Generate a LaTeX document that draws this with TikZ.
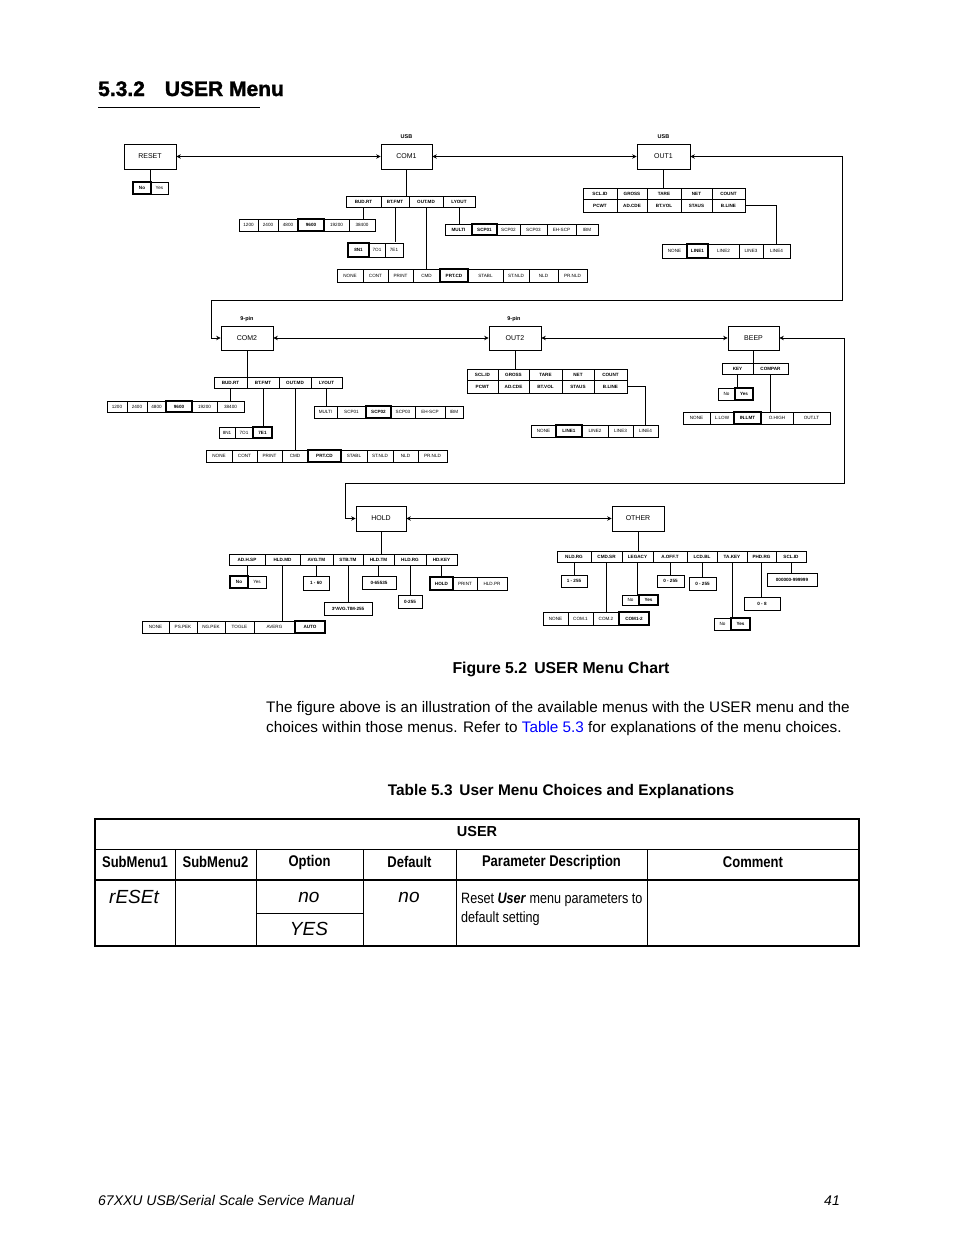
\documentclass[tikz,border=0pt]{standalone}
\usepackage{fontspec}
\setmainfont{Liberation Sans}
\newfontfamily\narrowfont[FakeStretch=0.84]{Liberation Sans}
\newfontfamily\heavyfont[BoldFeatures={FakeBold=1.6}]{Liberation Sans}
\usetikzlibrary{arrows.meta}
\newcommand\bx[7]{\node[#6, minimum width={(#3-#2)*1pt}, minimum height={(#5-#4)*1pt}] (#1) at ({(#2+#3)/2},{(#4+#5)/2}) {#7};}
\newcommand\cellrow[4]{\foreach \xa/\xb/\st/\tx [count=\i] in {#4} {\bx{#1\i}{\xa}{\xb}{#2}{#3}{\st}{\tx}}}
\newcommand\vcon[2]{\draw[conn] (#1.south) -- (#1.south |- #2.north);}
\tikzset{
  mainbox/.style={draw, line width=0.7pt, inner sep=0pt, font=\fontsize{7}{8}\selectfont},
  cnm/.style={draw, line width=0.6pt, inner sep=0pt, font=\fontsize{4.6}{5}\selectfont},
  chd/.style={cnm, font=\fontsize{4.6}{5}\selectfont\bfseries},
  cdf/.style={cnm, line width=1.6pt, font=\fontsize{4.6}{5}\selectfont\bfseries},
  conn/.style={line width=0.7pt},
  arr/.style={conn, {Stealth[length=4.5pt,width=4.5pt]}-{Stealth[length=4.5pt,width=4.5pt]}},
  lbl/.style={font=\fontsize{5.5}{6}\selectfont\bfseries},
  seg/.style={font=\fontsize{19}{20}\selectfont\itshape},
  th/.style={font=\narrowfont\fontsize{15.5}{18}\selectfont\bfseries},
}
\begin{document}
\begin{tikzpicture}[x=1pt,y=-1pt]
\useasboundingbox[fill=white] (0,0) rectangle (954,1235);

% ---------- heading ----------
\node[anchor=base west, inner sep=0pt, font=\heavyfont\fontsize{21}{24}\selectfont\bfseries] (head) at (98,96) {5.3.2\hspace{20pt}USER Menu};
\draw[line width=0.6pt] (98,107) coordinate (ul1) -- (260,107) coordinate (ul2);

% ---------- tier 1 ----------
\bx{reset}{124}{176}{144}{169}{mainbox}{RESET}
\bx{com1}{381}{432}{144}{169}{mainbox}{COM1}
\bx{out1}{637}{690}{144}{169}{mainbox}{OUT1}
\node[lbl] (usb1) at (406.5,136.5) {USB};
\node[lbl] (usb2) at (663.5,136.5) {USB};
\cellrow{rr}{182}{194}{133/151/cdf/No, 151/168/cnm/Yes}
\cellrow{c1m}{196}{207}{346/381/chd/BUD.RT, 381/409/chd/BT.FMT, 409/443/chd/OUT.MD, 443/475/chd/LYOUT}
\cellrow{c1b}{219}{231}{239/258/cnm/1200, 258/278/cnm/2400, 278/298/cnm/4800, 298/324/cdf/9600, 324/349/cnm/19200, 349/375/cnm/38400}
\cellrow{c1f}{243}{257}{348/369/cdf/8N1, 369/385/cnm/7O1, 385/403/cnm/7E1}
\cellrow{c1o}{269}{282}{337/363/cnm/NONE, 363/388/cnm/CONT, 388/413/cnm/PRINT, 413/440/cnm/CMD, 440/468/cdf/PRT.CD, 468/503/cnm/STABL, 503/529/cnm/ST.NLD, 529/558/cnm/NLD, 558/587/cnm/PR.NLD}
\cellrow{c1l}{224}{235}{445/472/chd/MULTI, 472/497/cdf/SCP01, 497/520/cnm/SCP02, 520/547/cnm/SCP03, 547/576/cnm/EH-SCP, 576/598/cnm/IBM}
\cellrow{o1a}{188}{199.5}{583/617/chd/SCL.ID, 617/647/chd/GROSS, 647/681/chd/TARE, 681/712/chd/NET, 712/745/chd/COUNT}
\cellrow{o1b}{199.5}{212}{583/617/chd/PCWT, 617/647/chd/AD.CDE, 647/681/chd/BT.VOL, 681/712/chd/STAUS, 712/745/chd/B.LINE}
\cellrow{o1l}{244}{258}{662/687/cnm/NONE, 687/708/cdf/LINE1, 708/739/cnm/LINE2, 739/763/cnm/LINE3, 763/790/cnm/LINE4}

\draw[arr] (reset.east) -- (com1.west);
\draw[arr] (com1.east) -- (out1.west);
\vcon{reset}{rr1}
\vcon{com1}{c1m1}
\vcon{c1m1}{c1b1}
\vcon{c1m2}{c1f1}
\vcon{c1m3}{c1o1}
\vcon{c1m4}{c1l1}
\vcon{out1}{o1a1}
\draw[conn] (o1b5.east) -| (o1l5.north);

% ---------- tier 2 ----------
\bx{com2}{221}{273}{326}{350}{mainbox}{COM2}
\bx{out2}{489}{541}{326}{350}{mainbox}{OUT2}
\bx{beep}{728}{779}{326}{350}{mainbox}{BEEP}
\node[lbl] (pin1) at (247,319) {9-pin};
\node[lbl] (pin2) at (514,319) {9-pin};
\cellrow{c2m}{377}{388}{214/247/chd/BUD.RT, 247/279/chd/BT.FMT, 279/311/chd/OUT.MD, 311/342/chd/LYOUT}
\cellrow{c2b}{401}{412}{107/127/cnm/1200, 127/147/cnm/2400, 147/166/cnm/4800, 166/192/cdf/9600, 192/217/cnm/19200, 217/244/cnm/38400}
\cellrow{c2f}{427}{438}{219/235/cnm/8N1, 235/253/cnm/7O1, 253/272/cdf/7E1}
\cellrow{c2o}{450}{462}{206/232/cnm/NONE, 232/257/cnm/CONT, 257/282/cnm/PRINT, 282/308/cnm/CMD, 308/341/cdf/PRT.CD, 341/367/cnm/STABL, 367/393/cnm/ST.NLD, 393/418/cnm/NLD, 418/447/cnm/PR.NLD}
\cellrow{c2l}{406}{418}{314/337/cnm/MULTI, 337/366/cnm/SCP01, 366/391/cdf/SCP02, 391/415/cnm/SCP03, 415/445/cnm/EH-SCP, 445/463/cnm/IBM}
\cellrow{o2a}{369}{380.5}{467/498/chd/SCL.ID, 498/529/chd/GROSS, 529/562/chd/TARE, 562/594/chd/NET, 594/627/chd/COUNT}
\cellrow{o2b}{380.5}{393}{467/498/chd/PCWT, 498/529/chd/AD.CDE, 529/562/chd/BT.VOL, 562/594/chd/STAUS, 594/627/chd/B.LINE}
\cellrow{o2l}{425}{437}{531/556/cnm/NONE, 556/582/cdf/LINE1, 582/608/cnm/LINE2, 608/633/cnm/LINE3, 633/658/cnm/LINE4}
\cellrow{bm}{363}{374}{722/753/chd/KEY, 753/788/chd/COMPAR}
\cellrow{bk}{388}{400}{718/735/cnm/No, 735/753/cdf/Yes}
\cellrow{bc}{412}{424}{683/710/cnm/NONE, 710/734/cnm/L.LOW, 734/761/cdf/IN.LMT, 761/793/cnm/O.HIGH, 793/830/cnm/OUT.LT}

\coordinate (ra) at (842,300);
\coordinate (la) at (211.5,300);
\draw[arr] (out1.east) -| (ra) -- (la) |- (com2.west);
\draw[arr] (com2.east) -- (out2.west);
\draw[arr] (out2.east) -- (beep.west);
\vcon{com2}{c2m1}
\vcon{c2m1}{c2b1}
\vcon{c2m2}{c2f1}
\vcon{c2m3}{c2o1}
\vcon{c2m4}{c2l1}
\vcon{out2}{o2a1}
\draw[conn] (o2b5.east) -| (o2l5.north);
\vcon{beep}{bm1}
\vcon{bm1}{bk1}
\vcon{bm2}{bc1}

% ---------- tier 3 ----------
\bx{hold}{356}{406}{506}{531}{mainbox}{HOLD}
\bx{other}{612}{664}{506}{531}{mainbox}{OTHER}
\cellrow{hm}{554}{565}{229/265/chd/AD.H.SP, 265/300/chd/HLD.MD, 300/333/chd/AVG.TM, 333/363/chd/STB.TM, 363/394/chd/HLD.TM, 394/426/chd/HLD.RG, 426/457/chd/HD.KEY}
\cellrow{ha}{576}{588}{230/248/cdf/No, 248/266/cnm/Yes}
\cellrow{hmd}{621}{633}{142/169/cnm/NONE, 169/197/cnm/PS.PEK, 197/225/cnm/NG.PEK, 225/254/cnm/TOGLE, 254/295/cnm/AVERG, 295/325/cdf/AUTO}
\cellrow{hav}{576}{590}{303/329/chd/1 - 60}
\cellrow{hst}{602}{615}{324/372/chd/3*AVG.TIM-255}
\cellrow{htm}{576}{589}{362/396/chd/0-65535}
\cellrow{hrg}{595}{608}{398/422/chd/0-255}
\cellrow{hky}{577}{590}{430/453/cdf/HOLD, 453/477/cnm/PRINT, 477/507/cnm/HLD.PR}
\cellrow{om}{551}{562}{557/591/chd/NLD.RG, 591/622/chd/CMD.SR, 622/653/chd/LEGACY, 653/687/chd/A.OFF.T, 687/717/chd/LCD.BL, 717/747/chd/TA.KEY, 747/776/chd/PHD.RG, 776/806/chd/SCL.ID}
\cellrow{onr}{575}{587}{561/587/chd/1 - 255}
\cellrow{ocs}{612}{625}{543/568/cnm/NONE, 568/593/cnm/COM.1, 593/619/cnm/COM.2, 619/649/cdf/COM1-2}
\cellrow{olg}{595}{605}{622/639/cnm/No, 639/658/cdf/Yes}
\cellrow{oao}{575}{587}{657/684/chd/0 - 255}
\cellrow{olc}{577}{590}{689/716/chd/0 - 255}
\cellrow{otk}{618}{630}{714/731/cnm/No, 731/750/cdf/Yes}
\cellrow{oph}{597}{610}{744/780/chd/0 - 8}
\cellrow{osc}{573}{586}{767/817/chd/000000-999999}

\coordinate (rb) at (844.5,483);
\coordinate (lb) at (345,483);
\draw[arr] (beep.east) -| (rb) -- (lb) |- (hold.west);
\draw[arr] (hold.east) -- (other.west);
\vcon{hold}{hm1}
\vcon{hm1}{ha1}
\vcon{hm2}{hmd1}
\vcon{hm3}{hav1}
\vcon{hm4}{hst1}
\vcon{hm5}{htm1}
\vcon{hm6}{hrg1}
\vcon{hm7}{hky1}
\vcon{other}{om1}
\vcon{om1}{onr1}
\vcon{om2}{ocs1}
\vcon{om3}{olg1}
\vcon{om4}{oao1}
\vcon{om5}{olc1}
\vcon{om6}{otk1}
\vcon{om7}{oph1}
\vcon{om8}{osc1}

% ---------- captions & paragraph ----------
\node[anchor=base, inner sep=0pt, font=\fontsize{15.8}{18}\selectfont\bfseries] (figcap) at (561,673) {Figure 5.2\hspace{0.45em}USER Menu Chart};
\node[anchor=base west, inner sep=0pt, align=left, font=\fontsize{15.3}{19.5}\selectfont] (para) at (266,732) {The figure above is an illustration of the available menus with the USER menu and the\\choices within those menus. Refer to \textcolor{blue}{Table 5.3} for explanations of the menu choices.};
\node[anchor=base, inner sep=0pt, font=\fontsize{15.4}{18}\selectfont\bfseries] (tabcap) at (561,795) {Table 5.3\hspace{0.45em}User Menu Choices and Explanations};

% ---------- table ----------
\draw[line width=2.6pt] (95,819) rectangle (859,946);
\draw[line width=1pt] (95,849.5) -- (859,849.5);
\draw[line width=2.6pt] (95,880) -- (859,880);
\foreach \cx in {175.5,256,363,456,647} \draw[line width=1pt] (\cx,849.5) -- (\cx,946);
\draw[line width=1pt] (256,913) -- (363,913);
\node[font=\fontsize{14.5}{16}\selectfont\bfseries] (tuser) at (477,831) {USER};
\node[th] (h1) at (135,862) {SubMenu1};
\node[th] (h2) at (215.5,862) {SubMenu2};
\node[th] (h3) at (309.5,862) {Option};
\node[th] (h4) at (409.5,862) {Default};
\node[th] (h5) at (551.5,862) {Parameter Description};
\node[th] (h6) at (753,862) {Comment};
\node[seg] (s1) at (134,897) {rESEt};
\node[seg] (s2) at (309,897) {no};
\node[seg] (s3) at (309,929) {YES};
\node[seg] (s4) at (409,897) {no};
\node[anchor=north west, inner sep=0pt, align=left, font=\narrowfont\fontsize{15}{19}\selectfont] (desc) at (461,893) {Reset \textbf{\textit{User}} menu parameters to\\default setting};

% ---------- footer ----------
\node[anchor=base west, inner sep=0pt, font=\fontsize{14}{16}\selectfont\itshape] (foot) at (98,1205) {67XXU USB/Serial Scale Service Manual};
\node[anchor=base east, inner sep=0pt, font=\fontsize{14}{16}\selectfont\itshape] (pg) at (840,1205) {41};
\end{tikzpicture}
\end{document}
